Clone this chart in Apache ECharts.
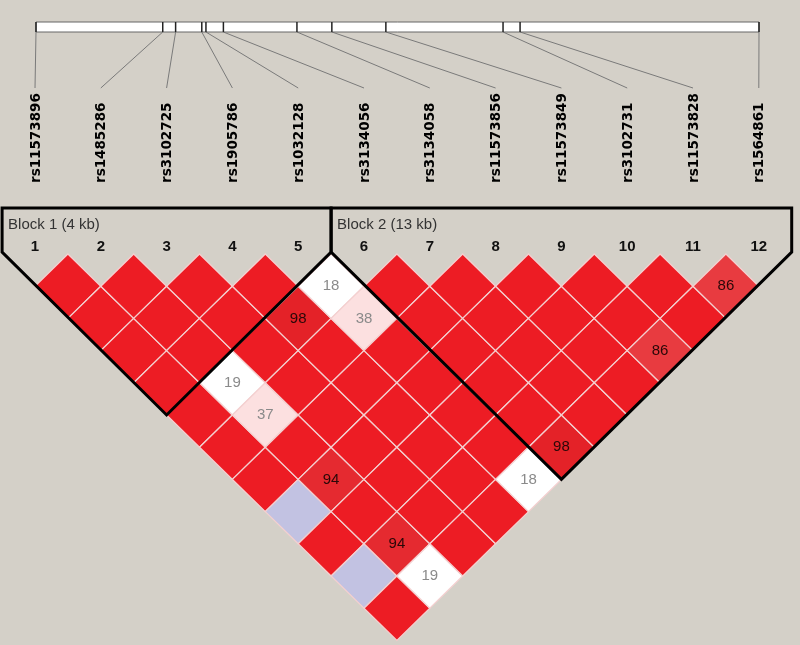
<!DOCTYPE html>
<html>
<head>
<meta charset="utf-8">
<script src="https://cdn.jsdelivr.net/npm/echarts@6/dist/echarts.min.js"></script>
<style>
  html, body { margin: 0; padding: 0; background: #d4d0c8; }
  #main { width: 800px; height: 645px; }
</style>
</head>
<body>
<div id="main"></div>
<script>
// SNP markers, in order, with physical position (kb from first marker)
const snpNames = ['rs11573896', 'rs1485286', 'rs3102725', 'rs1905786', 'rs1032128', 'rs3134056',
  'rs3134058', 'rs11573856', 'rs11573849', 'rs3102731', 'rs11573828', 'rs1564861']
const snpPosKb = [0, 3.05, 3.36, 3.99, 4.09, 4.51, 6.28, 7.12, 8.42, 11.24, 11.65, 17.4]

// pairs that differ from D'=1 / LOD>=2 : marker i, marker j, D' (x100), LOD>=2 (1/0)
const pairI = [4, 5, 5, 2, 2, 2, 1, 2, 1, 2, 5, 6, 9, 11]
const pairJ = [6, 6, 7, 6, 7, 9, 9, 11, 11, 12, 12, 12, 12, 12]
const pairDp = [98, 18, 38, 19, 37, 94, 100, 94, 100, 19, 18, 98, 86, 86]
const pairSig = [1, 0, 1, 0, 1, 1, 0, 1, 0, 0, 0, 1, 1, 1]

// haplotype blocks
const blockStart = [1, 6]
const blockEnd = [5, 12]
const blockLabels = ['Block 1 (4 kb)', 'Block 2 (13 kb)']

// build the full pair list (default D'=100, significant)
const cells = []
for (let i = 1; i < snpNames.length; i++) {
  for (let j = i + 1; j <= snpNames.length; j++) {
    let dp = 100
    let sig = 1
    for (let k = 0; k < pairI.length; k++) {
      if (pairI[k] === i && pairJ[k] === j) { dp = pairDp[k]; sig = pairSig[k] }
    }
    cells.push([i, j, dp, sig])
  }
}

// layout: marker spacing and row height in px
const colW = 65.8
const rowH = 32.2
const xMin = 1 - 35 / colW
const kbW = 723 / 17.4
const kbMin = -36 / kbW
const yMin = -254 / rowH

function cellColor (dp, sig) {
  if (sig && dp >= 100) return '#ed1c24'
  if (!sig && dp >= 100) return '#c2c2e2'
  if (!sig) return '#ffffff'
  // pink -> red by D'
  const t = Math.pow(Math.max(0, Math.min(1, (dp - 40) / 60)), 0.6)
  const r = Math.round(252 + (228 - 252) * t)
  const g = Math.round(224 + (30 - 224) * t)
  const b = Math.round(224 + (36 - 224) * t)
  return 'rgb(' + r + ',' + g + ',' + b + ')'
}

const chart = echarts.init(document.getElementById('main'))

const option = {
  backgroundColor: '#d4d0c8',
  animation: false,
  grid: { left: 0, right: 0, top: 0, bottom: 0 },
  xAxis: [
    { type: 'value', min: xMin, max: xMin + 800 / colW, show: false },
    { type: 'value', min: kbMin, max: kbMin + 800 / kbW, show: false }
  ],
  yAxis: { type: 'value', inverse: true, min: yMin, max: yMin + 645 / rowH, show: false },
  series: [
    // LD diamonds
    {
      type: 'custom',
      xAxisIndex: 0,
      data: cells,
      renderItem (params, api) {
        const i = api.value(0)
        const j = api.value(1)
        const dp = api.value(2)
        const sig = api.value(3)
        const mx = (i + j) / 2
        const d = j - i
        const c = api.coord([mx, d])
        const l = api.coord([mx - 0.5, d])
        const t = api.coord([mx, d - 1])
        const hw = c[0] - l[0]
        const hh = c[1] - t[1]
        const children = [{
          type: 'polygon',
          shape: { points: [[c[0], c[1] - hh], [c[0] + hw, c[1]], [c[0], c[1] + hh], [c[0] - hw, c[1]]] },
          style: { fill: cellColor(dp, sig), stroke: '#f4d0d0', lineWidth: 1.3 }
        }]
        if (dp < 100) {
          children.push({
            type: 'text',
            x: c[0],
            y: c[1],
            style: {
              text: String(dp),
              align: 'center',
              verticalAlign: 'middle',
              font: '15px "Liberation Sans", Arial, sans-serif',
              fill: dp < 50 ? '#8a8a8a' : '#2a0808'
            }
          })
        }
        return { type: 'group', children }
      }
    },
    // block outlines
    {
      type: 'custom',
      xAxisIndex: 0,
      data: blockStart.map((s, k) => [s, blockEnd[k], k]),
      z: 5,
      renderItem (params, api) {
        const a = api.value(0)
        const b = api.value(1)
        const left = api.coord([a - 0.5, 0])
        const right = api.coord([b + 0.5, 0])
        const bottom = api.coord([(a + b) / 2, b - a + 1])
        const topY = 208
        return {
          type: 'group',
          children: [
            {
              type: 'polygon',
              shape: { points: [[left[0], topY], [right[0], topY], [right[0], right[1] - 2], bottom, [left[0], left[1] - 2]] },
              style: { fill: 'none', stroke: '#000', lineWidth: 3, lineJoin: 'miter' }
            },
            {
              type: 'text',
              x: left[0] + 6,
              y: 225,
              style: {
                text: blockLabels[api.value(2)],
                align: 'left',
                verticalAlign: 'middle',
                font: '15px "Liberation Sans", Arial, sans-serif',
                fill: '#333'
              }
            }
          ]
        }
      }
    },
    // marker numbers and names
    {
      type: 'custom',
      xAxisIndex: 0,
      data: snpNames.map((n, k) => [k + 1]),
      renderItem (params, api) {
        const k = api.value(0)
        const p = api.coord([k, 0])
        return {
          type: 'group',
          children: [
            {
              type: 'text',
              x: p[0],
              y: 247,
              style: {
                text: String(k),
                align: 'center',
                verticalAlign: 'middle',
                font: 'bold 15px "Liberation Sans", Arial, sans-serif',
                fill: '#111'
              }
            },
            {
              type: 'text',
              x: p[0] + 1,
              y: 183,
              rotation: Math.PI / 2,
              style: {
                text: snpNames[k - 1],
                align: 'left',
                verticalAlign: 'middle',
                font: 'bold 13.5px "DejaVu Sans", sans-serif',
                fill: '#000'
              }
            }
          ]
        }
      }
    },
    // physical position bar with ticks
    {
      type: 'custom',
      xAxisIndex: 1,
      data: snpPosKb.map(v => [v]),
      renderItem (params, api) {
        const p = api.coord([api.value(0), 0])
        const children = []
        if (params.dataIndex === 0) {
          const x0 = api.coord([snpPosKb[0], 0])[0]
          const x1 = api.coord([snpPosKb[snpPosKb.length - 1], 0])[0]
          children.push({
            type: 'rect',
            shape: { x: x0, y: 22, width: x1 - x0, height: 10 },
            style: { fill: '#fff', stroke: '#666', lineWidth: 1 }
          })
        }
        children.push({
          type: 'line',
          shape: { x1: p[0], y1: 22, x2: p[0], y2: 32 },
          style: { stroke: '#222', lineWidth: 1.5 }
        })
        return { type: 'group', children }
      }
    }
  ]
}

chart.setOption(option)

// connector lines from physical position to marker column
const links = snpPosKb.map((kb, k) => {
  const xa = chart.convertToPixel({ xAxisIndex: 1 }, kb)
  const xb = chart.convertToPixel({ xAxisIndex: 0 }, k + 1)
  return {
    type: 'line',
    shape: { x1: xa, y1: 32, x2: xb, y2: 88 },
    style: { stroke: '#7a7a7a', lineWidth: 1 },
    z: 1
  }
})
chart.setOption({ graphic: links })
</script>
</body>
</html>
